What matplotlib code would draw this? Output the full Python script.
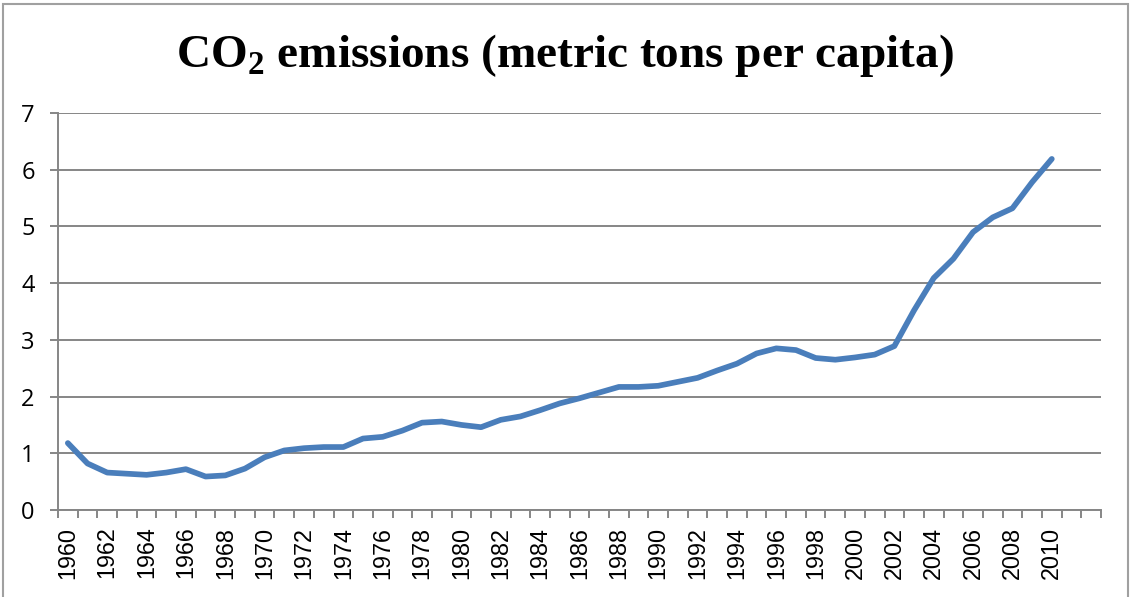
import matplotlib
matplotlib.use("Agg")
import matplotlib.pyplot as plt
from matplotlib.patches import Rectangle

# category axis runs 1960-2012, data only up to 2010
years = list(range(1960, 2013))
emissions = [1.18, 0.82, 0.66, 0.64, 0.62, 0.66, 0.72, 0.59, 0.61, 0.73,
             0.93, 1.05, 1.09, 1.11, 1.11, 1.26, 1.29, 1.40, 1.54, 1.56,
             1.50, 1.46, 1.59, 1.65, 1.76, 1.88, 1.97, 2.07, 2.17, 2.17,
             2.19, 2.26, 2.33, 2.46, 2.58, 2.76, 2.85, 2.82, 2.68, 2.65,
             2.69, 2.74, 2.89, 3.52, 4.09, 4.43, 4.90, 5.16, 5.32, 5.78,
             6.19]
label_years = [y for y in years if y % 2 == 0 and y <= 2010]
yticks = [0, 1, 2, 3, 4, 5, 6, 7]

grey = "#868686"
blue = "#4A7EBB"

plt.rcParams["mathtext.fontset"] = "custom"
plt.rcParams["mathtext.rm"] = "Liberation Serif:bold"
plt.rcParams["mathtext.bf"] = "Liberation Serif:bold"

fig = plt.figure(figsize=(11.3, 5.97), dpi=100)
ax = fig.add_axes([58 / 1130, 87 / 597, 1043 / 1130, 397 / 597])

idx = list(range(len(emissions)))
ax.plot(idx, emissions, color=blue, lw=4.1, solid_capstyle="round",
        solid_joinstyle="round", zorder=3)

ax.set_xlim(-0.5, len(years) - 0.5)
ax.set_ylim(0, 7)

ax.set_yticks(yticks)
ax.yaxis.grid(True, color=grey, lw=1.4)
ax.tick_params(axis="y", length=5.8, width=1.4, color=grey, pad=11)
ax.set_yticklabels([str(v) for v in yticks], fontsize=17, family="Open Sans")

ax.set_xticks([i - 0.5 for i in range(len(years) + 1)], minor=True)
ax.tick_params(axis="x", which="minor", length=5.8, width=1.4, color=grey)
ax.set_xticks([years.index(y) for y in label_years])
ax.tick_params(axis="x", which="major", length=0, pad=12)
ax.set_xticklabels([str(y) for y in label_years], rotation=90,
                   fontsize=16.8, family="Liberation Sans")

for s in ["top", "right"]:
    ax.spines[s].set_visible(False)
for s in ["left", "bottom"]:
    ax.spines[s].set_color(grey)
    ax.spines[s].set_linewidth(1.4)

fig.text(0.5, 1 - 67 / 597, r"CO$_{\mathrm{2}}$ emissions (metric tons per capita)",
         ha="center", va="baseline", fontsize=34, fontweight="bold",
         family="Liberation Serif")

# outer chart border
fig.patches.append(Rectangle((2.5 / 1130, -0.1), 1125 / 1130, 1.1 - 3.5 / 597,
                             transform=fig.transFigure, fill=False,
                             edgecolor="#A0A0A0", lw=1.5))

fig.savefig("out.png", dpi=100)
